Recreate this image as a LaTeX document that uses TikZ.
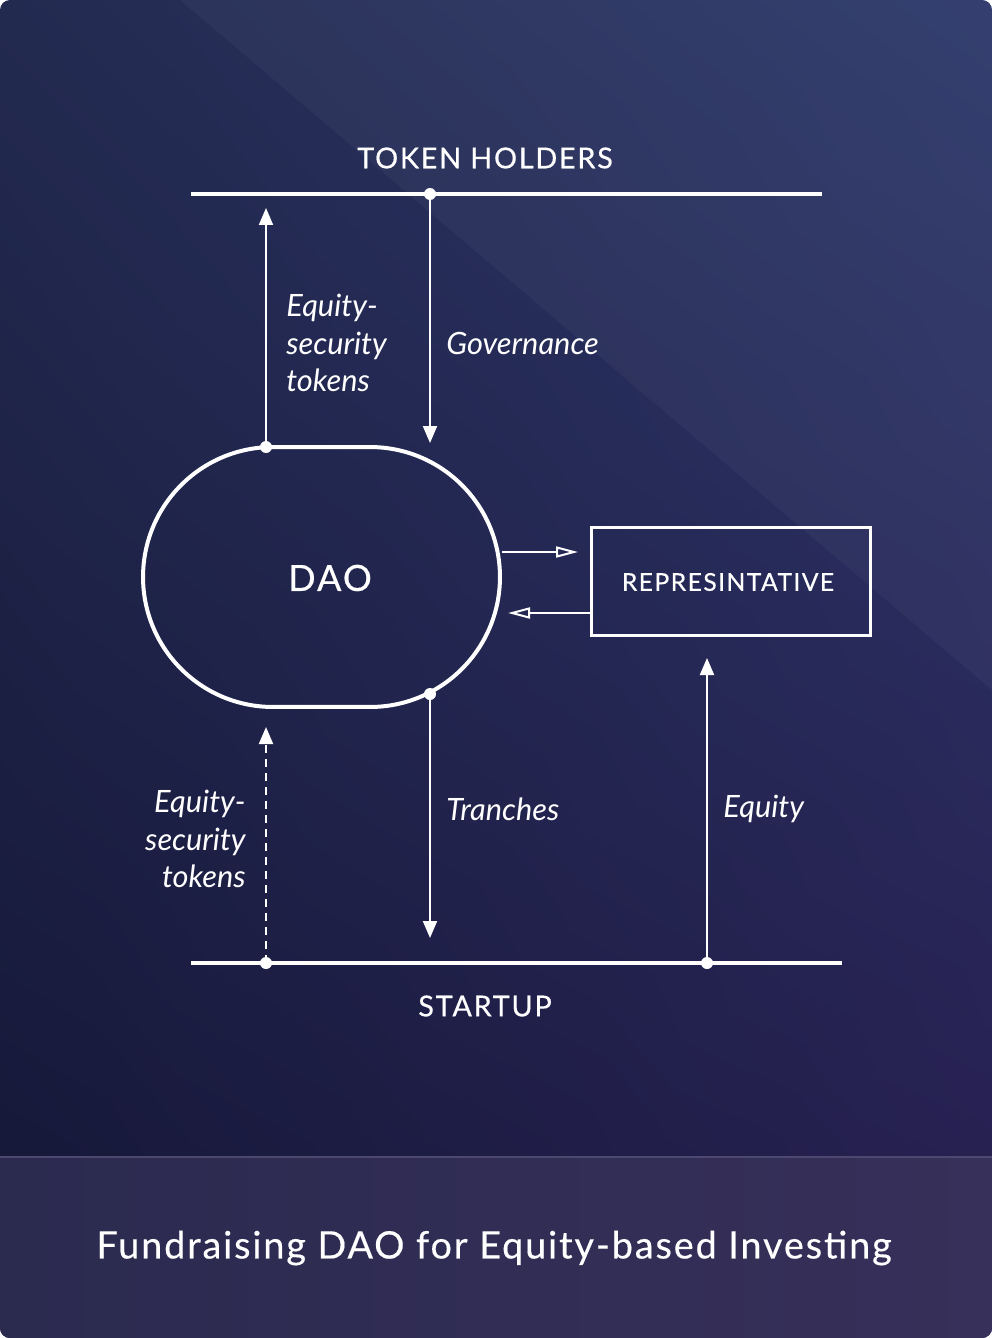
\documentclass[tikz,border=0pt]{standalone}
\usepackage{fontspec}
\setmainfont{Lato}
\newfontfamily\capsfont[LetterSpace=6, FakeBold=0.5]{Lato}
\newfontfamily\titlefont[LetterSpace=5, FakeBold=0.4]{Lato}
\usetikzlibrary{arrows.meta,positioning,calc,shadings}

\definecolor{bgul}{HTML}{232A50}
\definecolor{bgur}{HTML}{2D396B}
\definecolor{bgll}{HTML}{141636}
\definecolor{bglr}{HTML}{261D4E}
\definecolor{bandl}{HTML}{2B2A4F}
\definecolor{bandr}{HTML}{37305A}
\definecolor{bandline}{HTML}{4C4870}

\tikzset{
  wire/.style={white, line width=0.04cm},
  bar/.style={white, line width=0.08cm},
  flow/.style={wire, -{Triangle[width=0.28cm,length=0.34cm]}},
  back/.style={wire, -{Triangle[open,width=0.22cm,length=0.44cm,line width=0.04cm]}},
  pin/.style={circle, fill=white, inner sep=0pt, minimum size=0.24cm},
  lbl/.style={text=white, font=\itshape\fontsize{17.5}{21.5}\selectfont, inner sep=0pt},
  caps/.style={text=white, font=\capsfont\fontsize{16.4}{18}\selectfont, inner sep=0pt},
}

\begin{document}
\begin{tikzpicture}[x=0.02cm, y=-0.02cm]
  \useasboundingbox (0,0) rectangle (992,1338);
  \fill[white] (0,0) rectangle (992,1338);

  % background card
  \begin{scope}
    \clip[rounded corners=0.2cm] (0,0) rectangle (992,1338);
    \shade[upper left=bgul, upper right=bgur, lower left=bgll, lower right=bglr]
      (0,0) rectangle (992,1338);
    \fill[white, opacity=0.035] (180,0) -- (992,0) -- (992,690) -- cycle;
    \shade[left color=bandl, right color=bandr] (0,1157) rectangle (992,1338);
    \draw[bandline, line width=0.03cm] (0,1157) -- (992,1157);
  \end{scope}

  % bars
  \coordinate (th-l) at (191,194);
  \coordinate (th-r) at (822,194);
  \coordinate (st-l) at (191,963);
  \coordinate (st-r) at (842,963);
  \draw[bar] (th-l) -- (th-r);
  \draw[bar] (st-l) -- (st-r);

  \node(holders)[caps] at (485,158) {TOKEN HOLDERS};
  \node(startup)[caps] at (485,1006) {STARTUP};

  % main blocks
  \node(dao)[draw=white, line width=0.08cm, minimum width=7.14cm,
             minimum height=5.2cm, rounded corners=2.6cm, inner sep=0pt]
    at (321.5,577) {};
  \node(dao-lbl)[caps, font=\capsfont\fontsize{20.5}{22}\selectfont]
    at (330,578) {DAO};

  \node(rep)[draw=white, line width=0.06cm, minimum width=5.58cm,
             minimum height=2.16cm, inner sep=0pt] at (731,581.5) {};
  \node(rep-lbl)[caps, font=\capsfont\fontsize{14}{15}\selectfont]
    at (728,582) {REPRESINTATIVE};

  % pins
  \node(p-gov)[pin] at (430,194) {};
  \node(p-est)[pin] at (266,447) {};
  \node(p-tr)[pin] at (430,694) {};
  \node(p-eqb)[pin] at (266,963) {};
  \node(p-eq)[pin] at (707,963) {};

  \coordinate (gov-end) at (430,443);
  \coordinate (est-end) at (266,208);
  \coordinate (tr-end) at (430,938);
  \coordinate (eqb-end) at (266,727);
  \coordinate (eq-end) at (707,658);

  % flows
  \draw[flow] (p-gov.center) -- (gov-end);
  \draw[flow] (p-est.center) -- (est-end);
  \draw[flow] (p-tr.center) -- (tr-end);
  \draw[flow, dash pattern=on 0.16cm off 0.12cm] (p-eqb.center) -- (eqb-end);
  \draw[flow] (p-eq.center) -- (eq-end);

  \draw[back] (dao.east |- 0,552) -- (578,552);
  \draw[back] (rep.west |- 0,613) -- (508,613);

  % labels
  \node(l-est)[lbl, anchor=west, align=left] at (286,343)
    {Equity-\\security\\tokens};
  \node(l-gov)[lbl, anchor=west] at (446,343) {Governance};
  \node(l-eqb)[lbl, anchor=east, align=right] at (246,839)
    {Equity-\\security\\tokens};
  \node(l-tr)[lbl, anchor=west] at (446,809) {Tranches};
  \node(l-eq)[lbl, anchor=west] at (723,809) {Equity};

  \node(title)[text=white, inner sep=0pt,
               font=\titlefont\fontsize{21.5}{24}\selectfont]
    at (494,1248) {Fundraising DAO for Equity-based Investing};
\end{tikzpicture}
\end{document}
